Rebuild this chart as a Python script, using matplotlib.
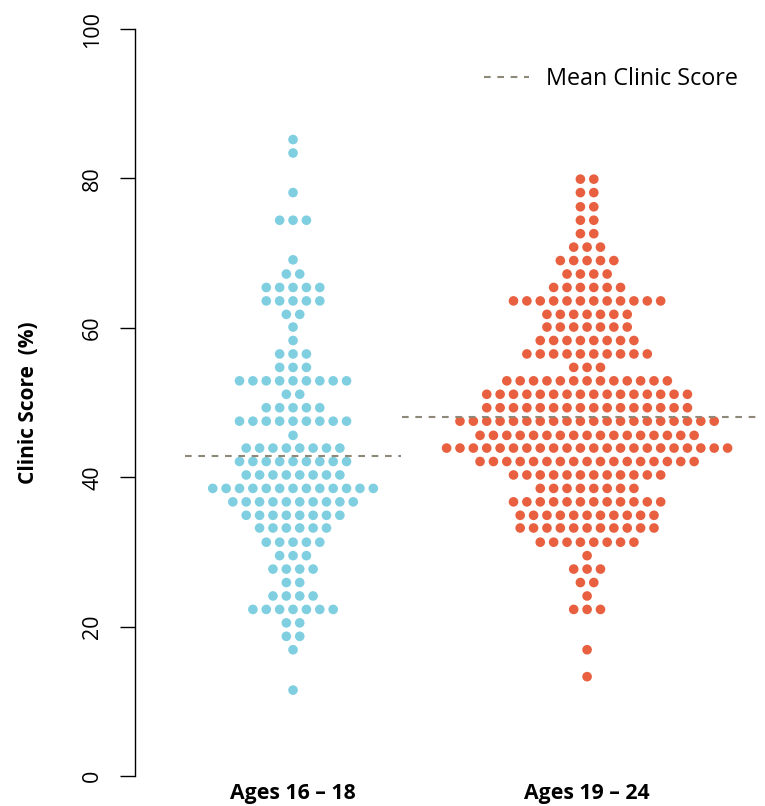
"""
Beeswarm of clinic scores for two age groups, with group means
"""
import matplotlib
matplotlib.use('Agg')
import matplotlib.pyplot as plt
from matplotlib.lines import Line2D
import numpy as np

plt.rcParams['font.family'] = ['Open Sans', 'DejaVu Sans']

GROUPS = ['Ages 16 \u2013 18', 'Ages 19 \u2013 24']
COLORS = ['#7fcfe1', '#e8603f']
MEAN_COLOR = '#8e8878'

# score level (%) and how many people sit on that level
young_scores = [85.2, 83.4, 78.1, 74.4, 69.1, 67.2, 65.4, 63.6, 61.8, 60.1, 58.3, 56.5,
                54.7, 52.9, 51.1, 49.3, 47.5, 45.6, 43.9, 42.1, 40.3, 38.5, 36.7, 34.9,
                33.2, 31.3, 29.5, 27.7, 25.9, 24.1, 22.3, 20.5, 18.7, 16.9, 11.5]
young_counts = [1, 1, 1, 3, 1, 2, 5, 5, 2, 1, 1, 3,
                3, 9, 2, 5, 9, 1, 8, 9, 8, 13, 10, 8,
                6, 5, 3, 4, 2, 4, 7, 2, 2, 1, 1]

older_scores = [79.9, 78.1, 76.2, 74.4, 72.6, 70.8, 69.0, 67.2, 65.4, 63.6, 61.8, 60.1,
                58.3, 56.5, 54.7, 52.9, 51.1, 49.3, 47.5, 45.6, 43.9, 42.1, 40.3, 38.5,
                36.7, 34.9, 33.2, 31.3, 29.5, 27.7, 25.9, 24.1, 22.3, 16.9, 13.3]
older_counts = [2, 2, 2, 2, 2, 3, 5, 4, 6, 12, 7, 7,
                8, 10, 3, 13, 16, 16, 20, 17, 22, 17, 12, 8,
                12, 11, 11, 8, 1, 3, 2, 1, 3, 1, 1]

mean_scores = [42.9, 48.1]

fig = plt.figure(figsize=(7.65, 8.06), dpi=100)
ax = fig.add_axes([135 / 765, 30 / 806, 630 / 765, 747 / 806])

dot_step = 0.0455   # horizontal spacing between neighbouring dots
for g, (scores, counts, c) in enumerate(zip([young_scores, older_scores],
                                            [young_counts, older_counts], COLORS)):
    xs, ys = [], []
    for s, n in zip(scores, counts):
        offs = (np.arange(n) - (n - 1) / 2.0) * dot_step
        xs.extend(g + 1 + offs)
        ys.extend([s] * n)
    ax.scatter(xs, ys, s=48, color=c, edgecolors='none', zorder=3, clip_on=False)

# group means as dashed lines
ax.plot([0.632, 1.366], [mean_scores[0]] * 2, color=MEAN_COLOR, lw=1.5,
        dashes=(3.2, 3.2), zorder=4)
ax.plot([1.372, 2.595], [mean_scores[1]] * 2, color=MEAN_COLOR, lw=1.5,
        dashes=(3.2, 3.2), zorder=4)

ax.set_xlim(0.4626, 2.605)
ax.set_ylim(0, 100)
ax.set_yticks([0, 20, 40, 60, 80, 100])
ax.tick_params(axis='y', length=11, width=1, pad=12, labelsize=15.5)
for lab in ax.get_yticklabels():
    lab.set_rotation(90)
    lab.set_va('center')
ax.set_xticks([1, 2])
ax.set_xticklabels(GROUPS, fontsize=15.3, fontweight='bold')
ax.tick_params(axis='x', length=0, pad=5)

for side in ['top', 'right', 'bottom']:
    ax.spines[side].set_visible(False)
ax.spines['left'].set_linewidth(1)

ax.set_ylabel('Clinic Score  (%)', fontsize=15, fontweight='bold', labelpad=31)

handle = Line2D([], [], color=MEAN_COLOR, lw=1.5, dashes=(3.2, 3.2))
ax.legend([handle], ['Mean Clinic Score'], loc='upper right', frameon=False,
          fontsize=16.8, handlelength=1.95, handletextpad=0.7,
          bbox_to_anchor=(0.99, 0.977))

fig.savefig('out.png', dpi=100)
